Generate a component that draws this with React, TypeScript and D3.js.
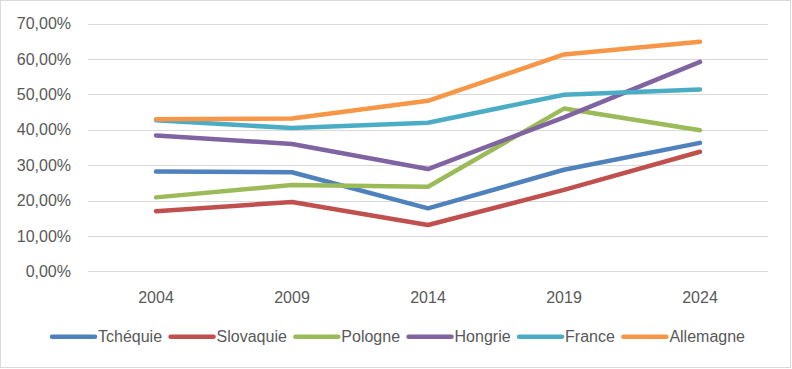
import React, { useEffect, useRef } from "react";
import * as d3 from "d3";

const years = ["2004", "2009", "2014", "2019", "2024"];
const yTicks = [0, 10, 20, 30, 40, 50, 60, 70];
const tcheque = [28.2, 28.0, 17.8, 28.7, 36.3];
const slovaquie = [17.0, 19.6, 13.1, 23.0, 33.8];
const pologne = [20.9, 24.4, 23.9, 46.0, 39.9];
const hongrie = [38.4, 36.0, 28.9, 43.5, 59.2];
const france = [42.7, 40.5, 42.0, 49.9, 51.4];
const allemagne = [43.0, 43.2, 48.2, 61.3, 64.9];
const seriesNames = ["Tchéquie", "Slovaquie", "Pologne", "Hongrie", "France", "Allemagne"];
const seriesValues = [tcheque, slovaquie, pologne, hongrie, france, allemagne];
const colors = ["#4F81BD", "#C0504D", "#9BBB59", "#8064A2", "#4BACC6", "#F79646"];

const W = 792;
const H = 369;
const FONT = "'Liberation Sans', Arial, sans-serif";

export default function App() {
  const ref = useRef<SVGSVGElement>(null);

  useEffect(() => {
    const svg = d3.select(ref.current);
    svg.selectAll("*").remove();

    svg.append("rect")
      .attr("x", 0.5).attr("y", 0.5)
      .attr("width", W - 2).attr("height", H - 2)
      .attr("fill", "#fff").attr("stroke", "#d9d9d9").attr("stroke-width", 1);

    const x = d3.scaleBand().domain(years).range([88, 768]);
    const y = d3.scaleLinear().domain([0, 70]).range([271.3, 23.7]);

    const g = svg.append("g");
    g.selectAll("line.grid").data(yTicks).enter().append("line")
      .attr("x1", 88).attr("x2", 768)
      .attr("y1", (d) => Math.round(y(d)) + 0.5).attr("y2", (d) => Math.round(y(d)) + 0.5)
      .attr("stroke", "#d9d9d9").attr("stroke-width", 1.2);

    g.selectAll("text.ytick").data(yTicks).enter().append("text")
      .attr("x", 71).attr("y", (d) => y(d))
      .attr("dy", "0.35em")
      .attr("text-anchor", "end")
      .attr("font-family", FONT).attr("font-size", 16).attr("fill", "#595959")
      .text((d) => d3.format(".2f")(d).replace(".", ",") + "%");

    g.selectAll("text.xtick").data(years).enter().append("text")
      .attr("x", (d) => (x(d) as number) + x.bandwidth() / 2).attr("y", 297)
      .attr("dy", "0.35em")
      .attr("text-anchor", "middle")
      .attr("font-family", FONT).attr("font-size", 16).attr("fill", "#595959")
      .text((d) => d);

    const line = d3.line<number>()
      .x((_, i) => (x(years[i]) as number) + x.bandwidth() / 2)
      .y((d) => y(d));

    seriesValues.forEach((vals, i) => {
      g.append("path")
        .attr("d", line(vals) as string)
        .attr("fill", "none")
        .attr("stroke", colors[i])
        .attr("stroke-width", 4.5)
        .attr("stroke-linecap", "round")
        .attr("stroke-linejoin", "round");
    });

    // legend
    const lg = svg.append("g");
    const swatch = 43;
    const items = seriesNames.map((name, i) => {
      const it = lg.append("g");
      it.append("line")
        .attr("x1", 0).attr("x2", swatch).attr("y1", 0).attr("y2", 0)
        .attr("stroke", colors[i]).attr("stroke-width", 4.5).attr("stroke-linecap", "round");
      const t = it.append("text")
        .attr("x", swatch + 3).attr("y", 0).attr("dy", "0.35em")
        .attr("font-family", FONT).attr("font-size", 16).attr("fill", "#595959")
        .text(name);
      const w = (t.node() as SVGTextElement).getComputedTextLength();
      return { it, w: swatch + 3 + w };
    });
    const gap = 8.5;
    const total = d3.sum(items, (d) => d.w) + gap * (items.length - 1);
    let cx = 398.5 - total / 2;
    items.forEach((d) => {
      d.it.attr("transform", `translate(${cx},336.7)`);
      cx += d.w + gap;
    });
  }, []);

  return (
    <svg ref={ref} width={W} height={H}
      style={{ position: "absolute", left: 0, top: 0, display: "block" }} />
  );
}
